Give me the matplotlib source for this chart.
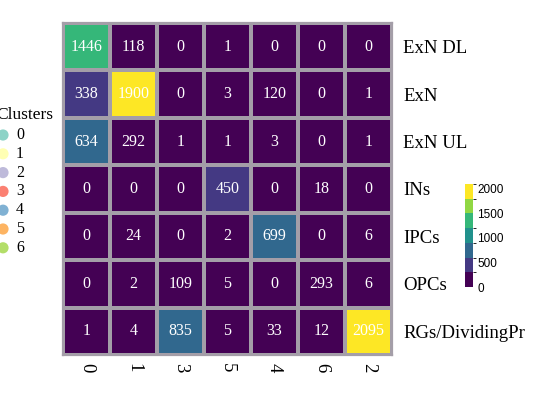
import numpy as np
import matplotlib.pyplot as plt
import matplotlib as mpl
from matplotlib.colors import BoundaryNorm

# confusion table: rows = cell types, cols = clusters (in display order)
row_labels = ["ExN DL", "ExN", "ExN UL", "INs", "IPCs", "OPCs", "RGs/DividingPr"]
col_labels = ["0", "1", "3", "5", "4", "6", "2"]
counts = np.array([
    [1446, 118, 0, 1, 0, 0, 0],
    [338, 1900, 0, 3, 120, 0, 1],
    [634, 292, 1, 1, 3, 0, 1],
    [0, 0, 0, 450, 0, 18, 0],
    [0, 24, 0, 2, 699, 0, 6],
    [0, 2, 109, 5, 0, 293, 6],
    [1, 4, 835, 5, 33, 12, 2095],
])
cluster_ids = ["0", "1", "2", "3", "4", "5", "6"]
cluster_colors = ["#8dd3c7", "#ffffb3", "#bebada", "#fb8072", "#80b1d3", "#fdb462", "#b3de69"]
color_breaks = [0, 300, 600, 900, 1200, 1500, 1800, 2100]
cbar_ticks = [0, 500, 1000, 1500, 2000]

W, H = 533, 394
fig = plt.figure(figsize=(W / 100, H / 100), dpi=100)
serif = "Liberation Serif"


def px_axes(x0, y0, x1, y1):
    # pixel box (top-left origin) -> figure axes
    return fig.add_axes([x0 / W, 1 - y1 / H, (x1 - x0) / W, (y1 - y0) / H])


# binned viridis scale, 7 steps
cmap = mpl.colormaps["viridis"].resampled(len(color_breaks) - 1)
norm = BoundaryNorm(color_breaks, cmap.N)

ax = px_axes(63, 23, 392, 355)
ax.pcolormesh(counts, cmap=cmap, norm=norm, edgecolors="#a49ea8", linewidth=1.6)
ax.set_xlim(0, len(col_labels))
ax.set_ylim(len(row_labels), 0)
for i in range(len(row_labels)):
    for j in range(len(col_labels)):
        ax.text(j + 0.5, i + 0.5, str(counts[i, j]), ha="center", va="center",
                color="white", fontsize=11.5, family=serif)
for s in ax.spines.values():
    s.set_color("#a49ea8")
    s.set_linewidth(1.6)
ax.set_xticks(np.arange(len(col_labels)) + 0.5)
ax.set_xticklabels(col_labels, rotation=270, family=serif, fontsize=13.5)
ax.set_yticks(np.arange(len(row_labels)) + 0.5)
ax.set_yticklabels(row_labels, family=serif, fontsize=13.5)
ax.yaxis.tick_right()
ax.tick_params(length=0, pad=8)
ax.tick_params(axis="x", pad=6)

# colorbar
cax = px_axes(465, 184, 473, 287)
cb = mpl.colorbar.ColorbarBase(cax, cmap=cmap, norm=norm, spacing="proportional")
cb.set_ticks(cbar_ticks)
cb.outline.set_visible(False)
cax.tick_params(length=0, pad=3, labelsize=8.5)
for t in cax.get_yticklabels():
    t.set_family("Liberation Sans")

# cluster legend (partly off the left edge, as in the reference)
lax = fig.add_axes([0, 0, 1, 1])
lax.set_xlim(0, W)
lax.set_ylim(H, 0)
lax.axis("off")
lax.text(-4, 115, "Clusters", family=serif, fontsize=12.5, va="center", ha="left")
for k, (cid, col) in enumerate(zip(cluster_ids, cluster_colors)):
    y = 135 + k * 18.8
    lax.scatter([3], [y], s=65, color=col, edgecolors="none")
    lax.text(16, y, cid, family=serif, fontsize=11.5, va="center", ha="left")

fig.savefig("out.png", dpi=100)
